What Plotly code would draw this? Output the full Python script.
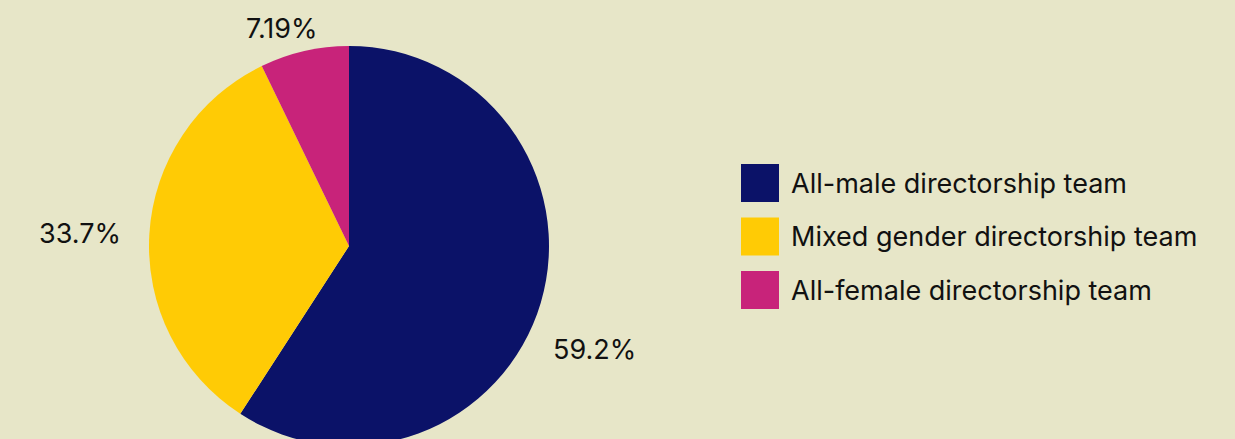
import plotly.graph_objects as go

labels = ["All-male directorship team", "Mixed gender directorship team", "All-female directorship team"]
values = [59.2, 33.7, 7.19]
colors = ["#0B1268", "#FFCB05", "#C8237A"]

# pixel centres of the percentage labels (layout only)
label_pos = [(594, 349), (80, 234), (282, 29)]

W, H = 1235, 460
FONT = "Inter"
FS = 27
BG = "#E7E6C8"
TXT = "#111111"

def px_x(x):
    return x / W

def px_y(y):
    return (H - y) / H

fig = go.Figure()
fig.add_trace(go.Pie(
    labels=labels,
    values=values,
    sort=False,
    direction="clockwise",
    rotation=0,
    marker=dict(colors=colors, line=dict(width=0)),
    textposition="none",
    showlegend=False,
    hoverinfo="label+percent",
    domain=dict(x=[px_x(149), px_x(549)], y=[px_y(446), px_y(46)]),
))

# percentage labels
for v, (lx, ly) in zip(values, label_pos):
    fig.add_annotation(xref="paper", yref="paper", x=px_x(lx), y=px_y(ly),
                       xanchor="center", yanchor="middle", showarrow=False,
                       text=f"{v}%", font=dict(family=FONT, size=FS, color=TXT))

# custom legend (large swatches)
y0 = 164
step = 53.5
for i, (lab, col) in enumerate(zip(labels, colors)):
    top = y0 + i * step
    fig.add_shape(type="rect", xref="paper", yref="paper",
                  x0=px_x(741), x1=px_x(779), y0=px_y(top + 38), y1=px_y(top),
                  fillcolor=col, line=dict(width=0))
    fig.add_annotation(xref="paper", yref="paper", x=px_x(789), y=px_y(top + 19),
                       xanchor="left", yanchor="middle", showarrow=False,
                       text=lab, font=dict(family=FONT, size=FS, color=TXT))

fig.update_layout(
    width=W, height=H,
    margin=dict(l=0, r=0, t=0, b=0),
    paper_bgcolor=BG, plot_bgcolor=BG,
    font=dict(family=FONT, color=TXT),
)

fig.write_html("out.html", post_script="document.documentElement.style.overflow='hidden';document.body.style.overflow='hidden';document.body.style.margin='0';")
